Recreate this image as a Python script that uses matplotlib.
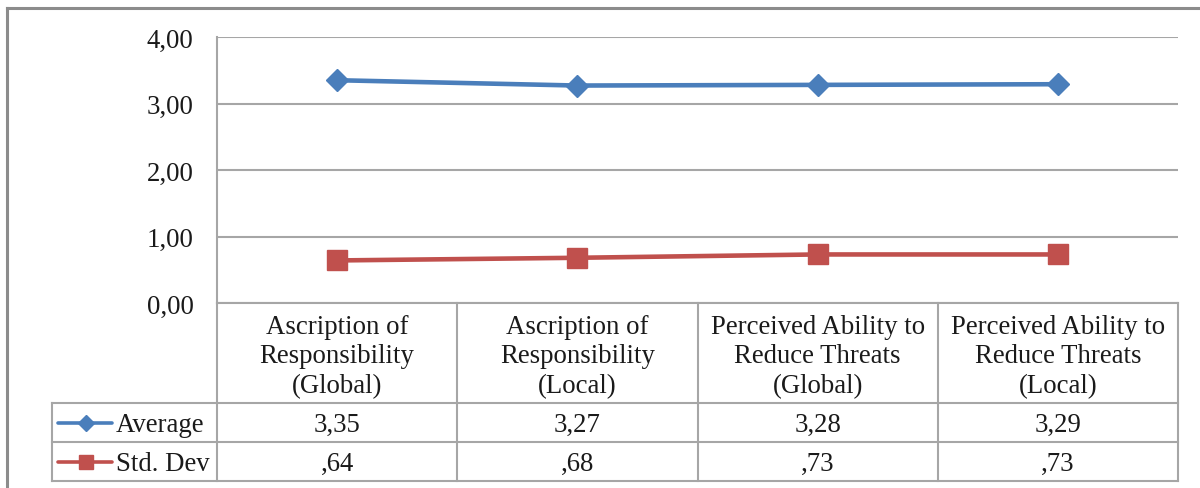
import matplotlib.pyplot as plt
from matplotlib.lines import Line2D

# dados do grafico
categorias = ['Ascription of\nResponsibility\n(Global)',
              'Ascription of\nResponsibility\n(Local)',
              'Perceived Ability to\nReduce Threats\n(Global)',
              'Perceived Ability to\nReduce Threats\n(Local)']
media = [3.35, 3.27, 3.28, 3.29]
desvio = [0.64, 0.68, 0.73, 0.73]
series_nomes = ['Average', 'Std. Dev']
yticks = [0, 1, 2, 3, 4]

azul = '#4a7ebb'
vermelho = '#c0504d'
cinza = '#a6a6a6'
texto = '#1a1a1a'
fonte = 'Liberation Serif'
tam = 19.3

W, H = 1200, 489
plt.rcParams['font.family'] = fonte

fig = plt.figure(figsize=(W / 100, H / 100), dpi=100)

# posicoes em pixels (layout)
x_esq, x_dir = 217, 1178
y_topo, y_zero = 38, 304
y_cab = 404
y_lin1 = 443
y_lin2 = 482
x_leg = 52

ax = fig.add_axes([x_esq / W, 1 - y_zero / H, (x_dir - x_esq) / W, (y_zero - y_topo) / H])
n = len(categorias)
xs = list(range(n))
ax.plot(xs, media, color=azul, lw=3.3, marker='D', ms=11, mec=azul, zorder=3)
ax.plot(xs, desvio, color=vermelho, lw=3.3, marker='s', ms=15, mec=vermelho, zorder=3)
ax.set_xlim(-0.5, n - 0.5)
ax.set_ylim(0, 4)
ax.set_yticks(yticks)
ax.set_yticklabels([f'{v:.2f}'.replace('.', ',') for v in yticks], fontsize=tam, color=texto)
ax.set_xticks([])
ax.tick_params(axis='y', length=0, pad=17)
ax.grid(axis='y', color=cinza, lw=1.5)
ax.set_axisbelow(True)
for lado in ['top', 'right']:
    ax.spines[lado].set_visible(False)
for lado in ['left', 'bottom']:
    ax.spines[lado].set_color(cinza)
    ax.spines[lado].set_linewidth(1.5)

# tabela de dados (eixo sobreposto em pixels)
tb = fig.add_axes([0, 0, 1, 1])
tb.set_xlim(0, W)
tb.set_ylim(H, 0)
tb.axis('off')

def linha(xv, yv, **kw):
    tb.add_line(Line2D(xv, yv, color=kw.get('color', cinza), lw=kw.get('lw', 1.5)))

larg = (x_dir - x_esq) / n
# linhas verticais do cabecalho e das linhas
linha([x_esq, x_esq], [y_zero, y_lin2])
for i in range(1, n + 1):
    xv = x_esq + i * larg
    linha([xv, xv], [y_zero, y_lin2])
linha([x_leg, x_leg], [y_cab, y_lin2])
for yv in [y_cab, y_lin1, y_lin2]:
    linha([x_leg, x_dir], [yv, yv])

for i, cat in enumerate(categorias):
    xc = x_esq + (i + 0.5) * larg
    tb.text(xc, (y_zero + y_cab) / 2 + 3, cat, ha='center', va='center', fontsize=tam,
            linespacing=1.23, color=texto)
    tb.text(xc, (y_cab + y_lin1) / 2 + 2, f'{media[i]:.2f}'.replace('.', ','), ha='center',
            va='center', fontsize=tam, color=texto)
    tb.text(xc, (y_lin1 + y_lin2) / 2 + 2, f'{desvio[i]:.2f}'.replace('0.', ','), ha='center',
            va='center', fontsize=tam, color=texto)

# legenda dentro da tabela
for (nome, cor, mk, tm, y0, y1) in [(series_nomes[0], azul, 'D', 8, y_cab, y_lin1),
                                    (series_nomes[1], vermelho, 's', 10, y_lin1, y_lin2)]:
    yc = (y0 + y1) / 2
    tb.plot([58, 112], [yc, yc], color=cor, lw=2.6, solid_capstyle='round')
    tb.plot([86], [yc], marker=mk, ms=tm, color=cor)
    tb.text(116, yc + 2, nome, ha='left', va='center', fontsize=tam, color=texto)

# borda externa
linha([6.5, 6.5], [8.5, H], color='#8c8c8c', lw=2.2)
linha([6.5, W], [8.5, 8.5], color='#8c8c8c', lw=2.2)

fig.savefig('out.png', dpi=100)
